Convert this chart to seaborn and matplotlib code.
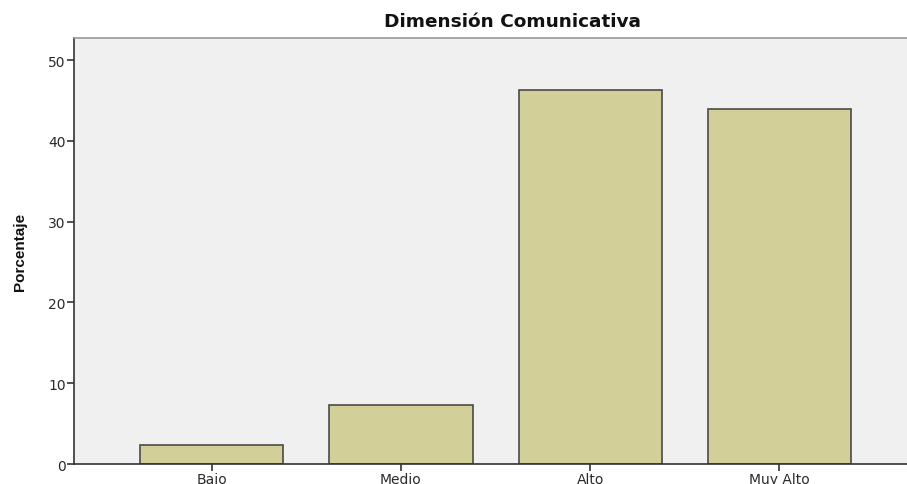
import numpy as np
import pandas as pd
import seaborn as sns
from matplotlib import pyplot as plt

# niveles y porcentajes (n = 41)
niveles = ["Bajo", "Medio", "Alto", "Muy Alto"]
porcentaje = [2.4, 7.3, 46.3, 43.9]

df = pd.DataFrame({"nivel": niveles, "porcentaje": porcentaje})

sns.set_style("ticks")
plt.rcParams['font.family'] = ['DejaVu Sans']

fig = plt.figure(figsize=(9.07, 4.85), dpi=100)
ax = fig.add_axes([0.0816, 0.0412, 0.9184, 0.878])
ax.set_facecolor("#f0f0f0")

sns.barplot(data=df, x="nivel", y="porcentaje", color="#d3cf98",
            edgecolor="#4a4a4a", linewidth=1.2, width=0.757,
            saturation=1, ax=ax)

ax.set_xlim(-0.728, 3.675)
ax.set_ylim(0, 52.7)
ax.set_yticks([0, 10, 20, 30, 40, 50])
ax.set_xlabel("")
ax.set_ylabel("Porcentaje", fontsize=11, fontweight="bold", labelpad=15,
              family="Liberation Sans", color="#111111")
# el título está centrado algo a la derecha (imagen recortada)
ax.set_title("Dimensión Comunicativa", fontsize=13.3, fontweight="bold",
             pad=9, x=0.526, color="#111111")

ax.tick_params(axis="both", labelsize=10, color="#333333", width=1.2,
               length=5, labelcolor="#2a2a2a")
ax.tick_params(axis="x", pad=0.5)
ax.tick_params(axis="y", pad=1)

for s in ["left", "bottom"]:
    ax.spines[s].set_color("#333333")
    ax.spines[s].set_linewidth(1.2)
ax.spines["top"].set_color("#999999")
ax.spines["top"].set_linewidth(1.2)
ax.spines["right"].set_visible(False)

plt.savefig("out.png", dpi=100)
